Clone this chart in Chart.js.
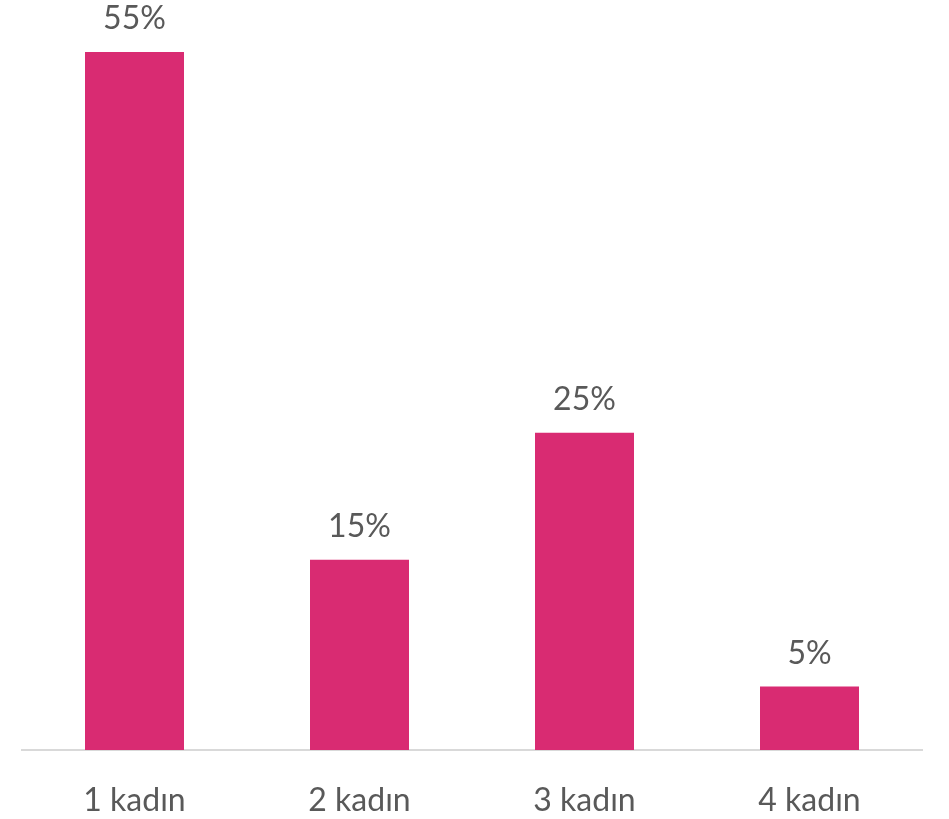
<!DOCTYPE html>
<html>
<head>
<meta charset="utf-8">
<script src="https://cdn.jsdelivr.net/npm/chart.js@4"></script>
<style>
  html, body { margin: 0; padding: 0; background: #fff; }
  canvas { display: block; }
</style>
</head>
<body>
<canvas id="chart" width="949" height="819"></canvas>
<script>
const categories = ["1 kadın", "2 kadın", "3 kadın", "4 kadın"];
const shares = [55, 15, 25, 5];
const barColor = "#d92b72";
const textColor = "#595959";
const fontFamily = "Lato, 'Open Sans', sans-serif";

// draws "55%" etc. above each bar
const valueLabels = {
  id: "valueLabels",
  afterDatasetsDraw(chart) {
    const ctx = chart.ctx;
    ctx.save();
    ctx.fillStyle = textColor;
    ctx.font = "32px " + fontFamily;
    ctx.textAlign = "center";
    ctx.textBaseline = "alphabetic";
    chart.getDatasetMeta(0).data.forEach((bar, i) => {
      ctx.fillText(shares[i] + "%", bar.x, bar.y - 23);
    });
    ctx.restore();
  },
};

new Chart(document.getElementById("chart"), {
  type: "bar",
  data: {
    labels: categories,
    datasets: [
      {
        data: shares,
        backgroundColor: barColor,
        barPercentage: 0.88,
        categoryPercentage: 0.5,
      },
    ],
  },
  options: {
    responsive: false,
    animation: false,
    layout: { padding: { top: 52, left: 22, right: 27, bottom: 0 } },
    plugins: { legend: { display: false }, tooltip: { enabled: false } },
    scales: {
      y: { display: false, min: 0, max: 55 },
      x: {
        grid: { display: false },
        border: { display: true, color: "#d9d9d9", width: 2 },
        ticks: {
          color: textColor,
          padding: 23,
          font: { family: fontFamily, size: 32 },
        },
        afterFit(scale) {
          scale.height = 69;
        },
      },
    },
  },
  plugins: [valueLabels],
});
</script>
</body>
</html>
